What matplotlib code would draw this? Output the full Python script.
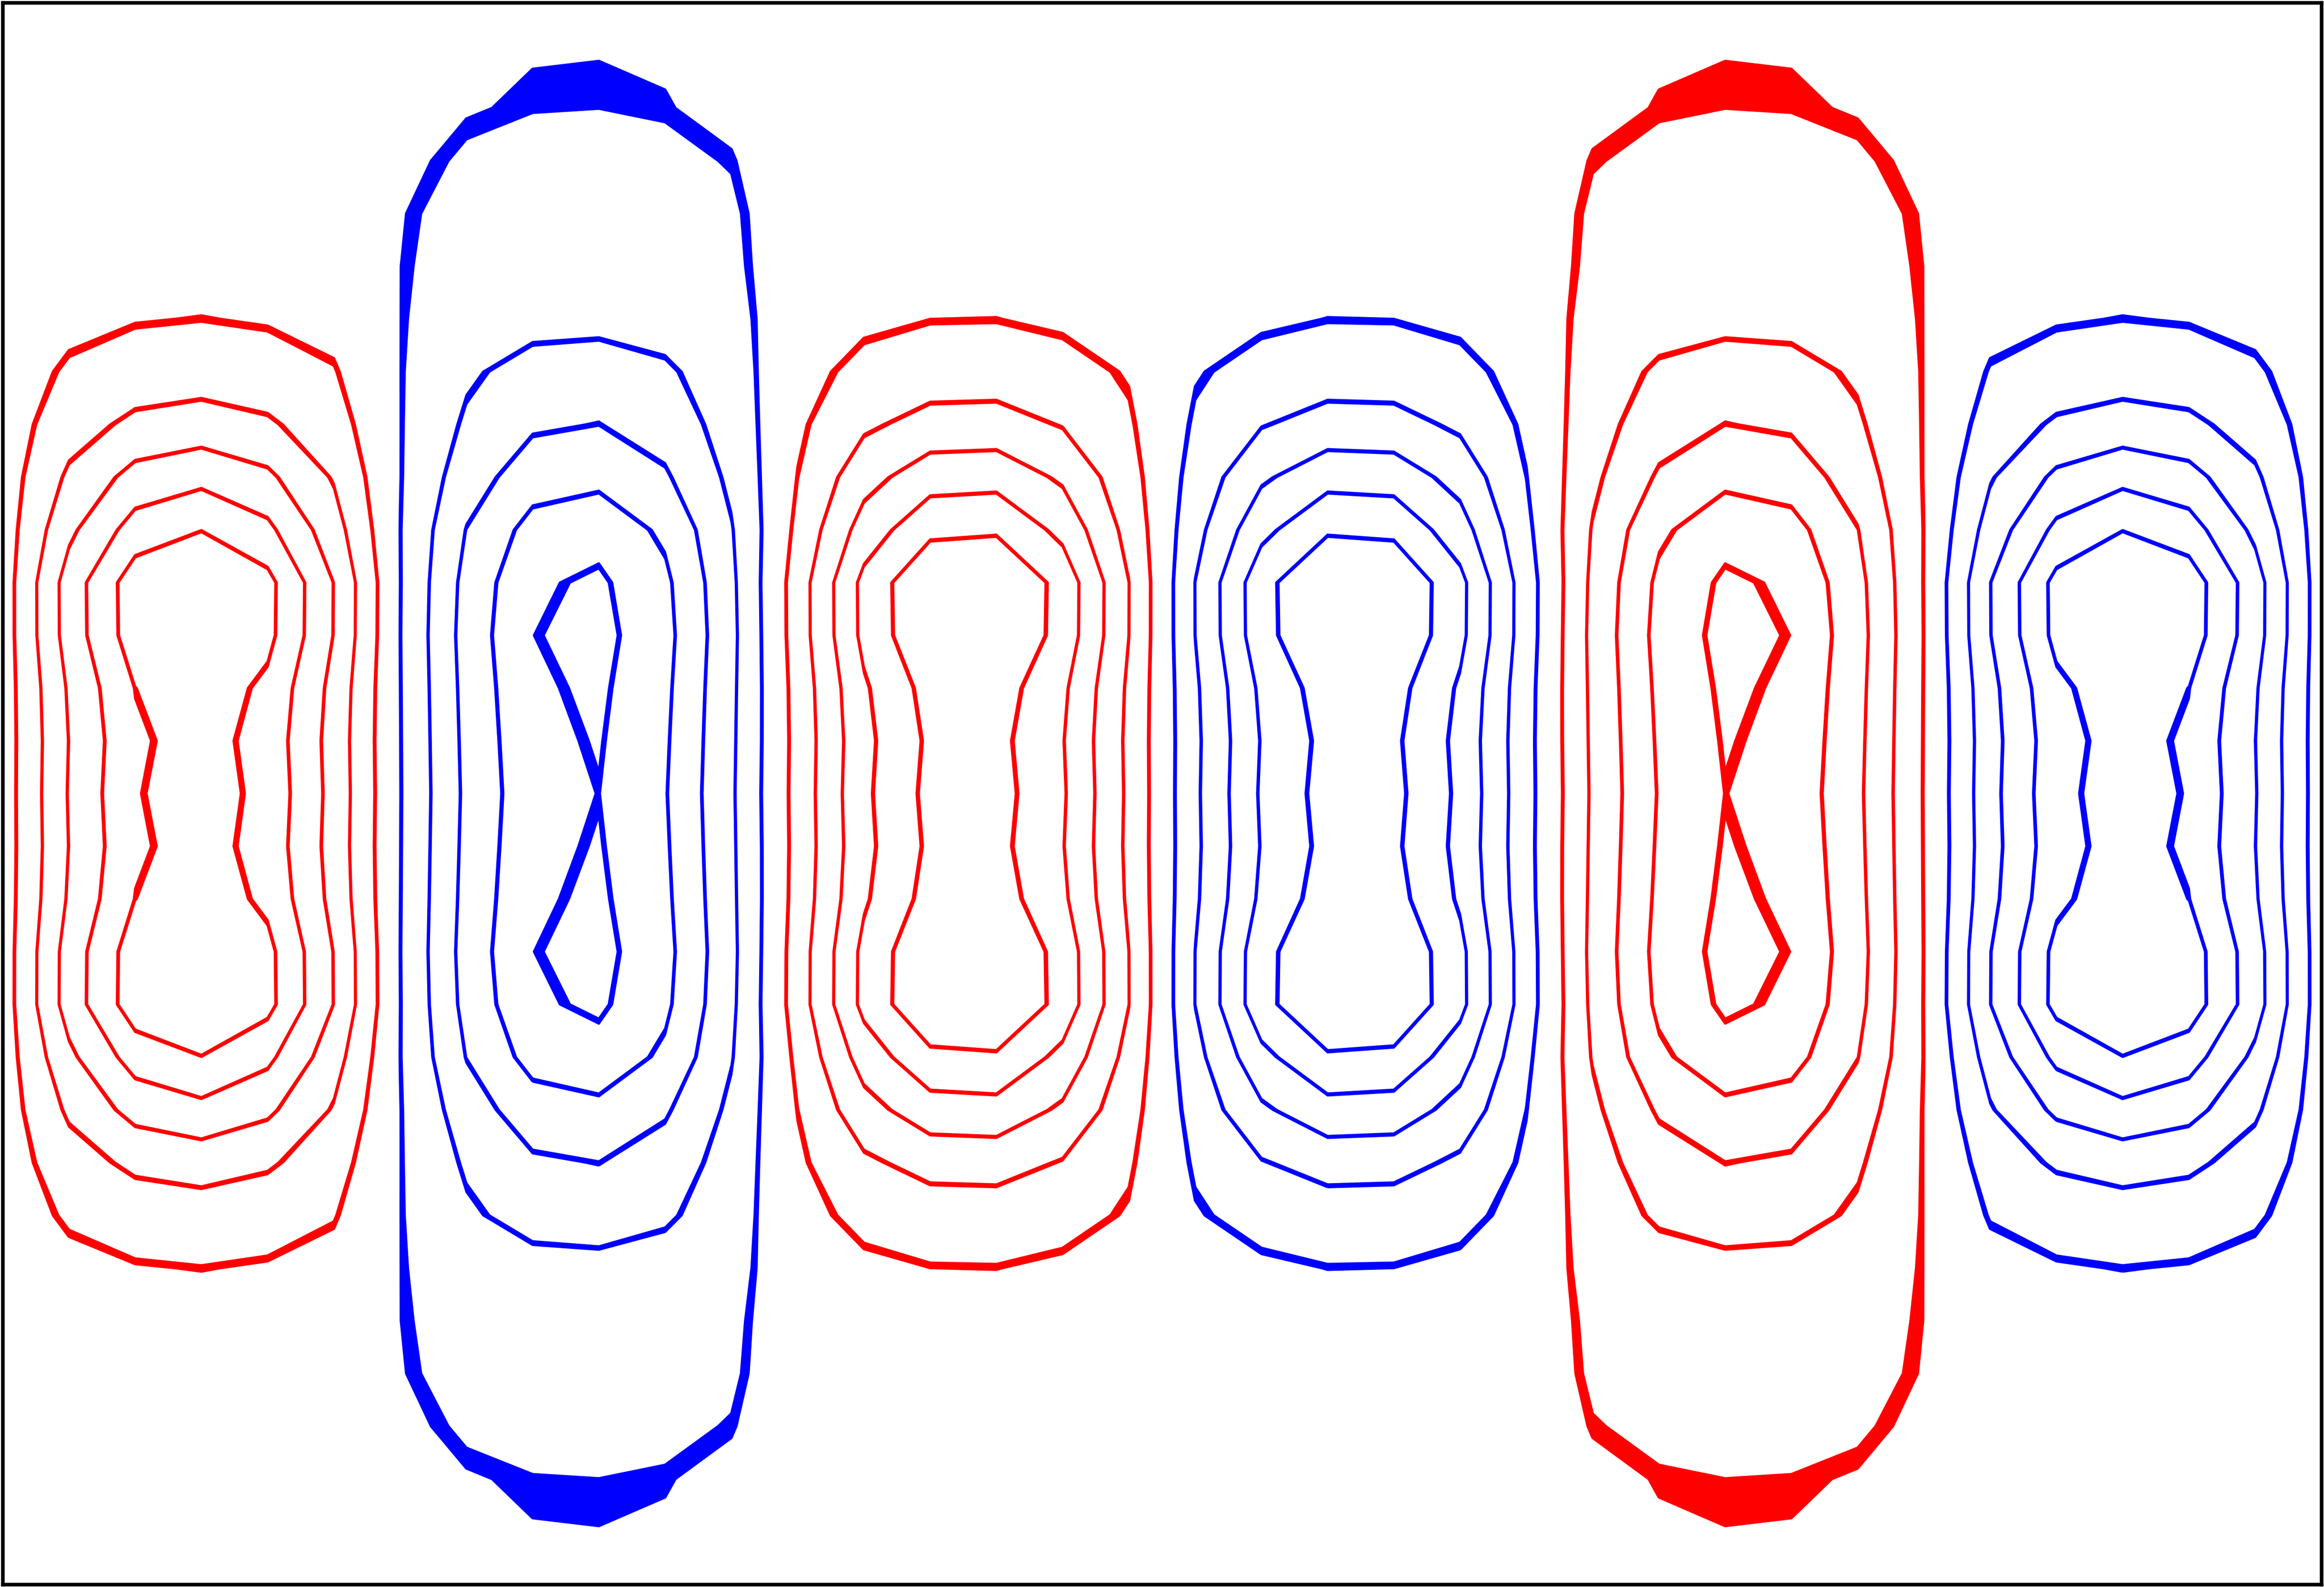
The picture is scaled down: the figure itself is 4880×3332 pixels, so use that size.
import numpy as np
import matplotlib
matplotlib.use('Agg')
import matplotlib.pyplot as plt

# grid the field was sampled on (36 columns x 31 rows)
n_cols, n_rows = 36, 31

# six cells across the box, left to right
cell_signs = [1, -1, 1, -1, 1, -1]
cell_tall = [False, True, False, False, True, False]

# contour levels (same for both signs), the width of each drawn band,
# and the line width used for each level
levels = [0.1, 0.3, 0.5, 0.7, 0.9]
line_widths = [1.3, 1.0, 1.0, 1.0, 1.1]
band = 0.01

# row profiles, from the mid-line (row 0) out to the top/bottom wall (row 15)
short_core = [1.01, 0.99, 1.03, 1.15, 1.155, 0.90, 0.64, 0.356, 0.161, 0.105,
              0.03, 0.01, 0.0, 0.0, 0.0, 0.0]
short_edge = [0.0, 0.0, 0.0, 0.0, 0.0, 0.0, 0.01, 0.036, 0.049, 0.0,
              0.0, 0.0, 0.0, 0.0, 0.0, 0.0]
tall_core = [0.883, 0.90, 0.92, 0.947, 0.919, 0.79, 0.59, 0.414, 0.2845, 0.108,
             0.0145, 0.0, 0.0, 0.021, 0.02, 0.02]
tall_edge = [0.028, 0.028, 0.028, 0.028, 0.028, 0.05, 0.07, 0.096, 0.1155, 0.1416,
             0.1555, 0.152, 0.13, 0.089, 0.079, 0.07]

x = np.linspace(0, 1, n_cols)
y = np.linspace(-1, 1, n_rows)
rows = np.abs(np.arange(n_rows) - n_rows // 2)

field = np.zeros((n_rows, n_cols))
for i, (sign, tall) in enumerate(zip(cell_signs, cell_tall)):
    u = (x - (2 * i + 1) / 12) * 12
    au = np.abs(u)
    core_shape = np.where(au <= 1, np.cos(np.pi / 2 * u), 0)
    if tall:
        # soft flat-topped profile that fades just past the cell edge
        edge_shape = np.exp(-(au / 1.144) ** 4) * np.clip((1.25 - au) / 0.25, 0, 1)
        core, edge = np.array(tall_core)[rows], np.array(tall_edge)[rows]
    else:
        edge_shape = np.where(au <= 1, np.cos(np.pi / 2 * au ** 8), 0)
        core, edge = np.array(short_core)[rows], np.array(short_edge)[rows]
    field += sign * (np.outer(core, core_shape) + np.outer(edge, edge_shape))

W, H, dpi = 4880, 3332, 300
fig = plt.figure(figsize=(W / dpi, H / dpi), dpi=dpi)
m = 5.5
ax = fig.add_axes([m / W, m / H, 1 - 2 * m / W, 1 - 2 * m / H])

red, blue = '#ff0000', '#0000ff'
for lev, lw in zip(levels, line_widths):
    ax.contourf(x, y, field, levels=[lev, lev + band], colors=[red])
    ax.contourf(x, y, field, levels=[-lev - band, -lev], colors=[blue])
    ax.contour(x, y, field, levels=[lev, lev + band], colors=red,
               linewidths=lw, linestyles='solid')
    ax.contour(x, y, field, levels=[-lev - band, -lev], colors=blue,
               linewidths=lw, linestyles='solid')

ax.set_xlim(0, 1)
ax.set_ylim(-1, 1)
ax.set_xticks([])
ax.set_yticks([])
for sp in ax.spines.values():
    sp.set_linewidth(1.8)

fig.savefig('out.png', dpi=dpi, facecolor='white')
